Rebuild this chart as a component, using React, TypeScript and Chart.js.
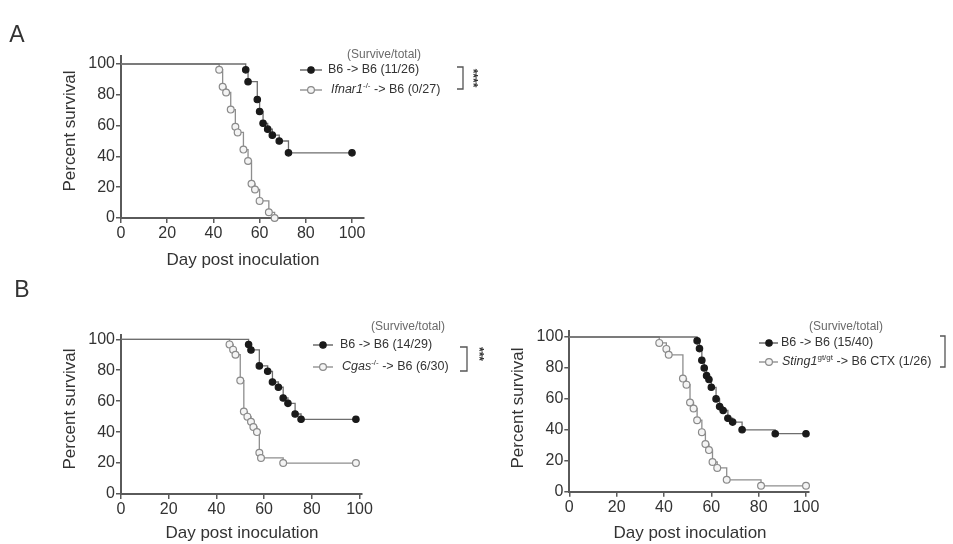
import React, { useEffect, useRef } from "react";
import { Chart, registerables } from "chart.js";

Chart.register(...registerables);

const FONT = "'Liberation Sans', Arial, Helvetica, sans-serif";
const W = 953;
const H = 544;

// ---------- Data (Kaplan-Meier steps: day, percent survival) ----------
// Panel A
const aCtrlDays = [0, 54, 55, 59, 60, 61.5, 63.5, 65.5, 68.5, 72.5, 100];
const aCtrlSurv = [100, 96.2, 88.5, 76.9, 69.2, 61.5, 57.7, 53.8, 50.0, 42.3, 42.3];
const aKoDays = [0, 42.5, 44, 45.5, 47.5, 49.5, 50.5, 53, 55, 56.5, 58, 60, 64, 66.5];
const aKoSurv = [100, 96.3, 85.2, 81.5, 70.4, 59.3, 55.6, 44.4, 37.0, 22.2, 18.5, 11.1, 3.7, 0];

// Panel B left
const bCtrlDays = [0, 53.5, 54.5, 58, 61.5, 63.5, 66, 68, 70, 73, 75.5, 98.5];
const bCtrlSurv = [100, 96.6, 93.1, 82.8, 79.3, 72.4, 69.0, 62.1, 58.6, 51.7, 48.3, 48.3];
const bKoDays = [0, 45.5, 47, 48, 50, 51.5, 53, 54.5, 55.5, 57, 58, 58.7, 68, 98.5];
const bKoSurv = [100, 96.7, 93.3, 90, 73.3, 53.3, 50, 46.7, 43.3, 40, 26.7, 23.3, 20, 20];

// Panel B right
const cCtrlDays = [0, 54, 55, 56, 57, 58, 59, 60, 62, 63.5, 65, 67, 69, 73, 87, 100];
const cCtrlSurv = [100, 97.5, 92.5, 85, 80, 75, 72.5, 67.5, 60, 55, 52.5, 47.5, 45, 40, 37.5, 37.5];
const cKoDays = [0, 38, 41, 42, 48, 49.5, 51, 52.5, 54, 56, 57.5, 59, 60.5, 62.5, 66.5, 81, 100];
const cKoSurv = [100, 96.2, 92.3, 88.5, 73.1, 69.2, 57.7, 53.8, 46.2, 38.5, 30.8, 26.9, 19.2, 15.4, 7.7, 3.8, 3.8];

const xTicks = [0, 20, 40, 60, 80, 100];
const yTicks = [0, 20, 40, 60, 80, 100];

const AXIS = "#5a5a5a";
const TXT = "#333333";

function makeDataset(days: number[], surv: number[], filled: boolean) {
  return {
    data: days.map((d, i) => ({ x: d, y: surv[i] })),
    stepped: "before",
    borderColor: filled ? "#6e6e6e" : "#8e8e8e",
    borderWidth: 1.3,
    pointRadius: (c: any) => (c.dataIndex === 0 ? 0 : filled ? 3.2 : 3.4),
    pointBackgroundColor: filled ? "#1a1a1a" : "#f4f4f4",
    pointBorderColor: filled ? "#1a1a1a" : "#8a8a8a",
    pointBorderWidth: 1.2,
    pointHoverRadius: 0,
    fill: false,
    clip: false,
  };
}

function text(ctx: CanvasRenderingContext2D, s: string, x: number, y: number, size: number, opts: any = {}) {
  ctx.save();
  ctx.font = `${opts.italic ? "italic " : ""}${opts.bold ? "bold " : ""}${size}px ${FONT}`;
  ctx.fillStyle = opts.color || TXT;
  ctx.textAlign = opts.align || "center";
  ctx.textBaseline = "middle";
  ctx.translate(x, y);
  if (opts.rot) ctx.rotate(opts.rot);
  ctx.fillText(s, 0, 0);
  ctx.restore();
}

function rich(ctx: CanvasRenderingContext2D, parts: any[], x: number, y: number) {
  ctx.save();
  ctx.textBaseline = "middle";
  ctx.textAlign = "left";
  ctx.fillStyle = TXT;
  let cx = x;
  for (const p of parts) {
    ctx.font = `${p.italic ? "italic " : ""}${p.size}px ${FONT}`;
    ctx.fillText(p.t, cx, y + (p.dy || 0));
    cx += ctx.measureText(p.t).width;
  }
  ctx.restore();
}

function legendMarker(ctx: CanvasRenderingContext2D, x1: number, x2: number, cx: number, y: number, filled: boolean) {
  ctx.save();
  ctx.strokeStyle = filled ? "#555" : "#888";
  ctx.lineWidth = 1.3;
  ctx.beginPath();
  ctx.moveTo(x1, y);
  ctx.lineTo(x2, y);
  ctx.stroke();
  ctx.beginPath();
  ctx.arc(cx, y, filled ? 3.2 : 3.4, 0, Math.PI * 2);
  ctx.fillStyle = filled ? "#1a1a1a" : "#f4f4f4";
  ctx.fill();
  ctx.strokeStyle = filled ? "#1a1a1a" : "#8a8a8a";
  ctx.lineWidth = 1.2;
  ctx.stroke();
  ctx.restore();
}

function bracket(ctx: CanvasRenderingContext2D, xl: number, xr: number, y1: number, y2: number) {
  ctx.save();
  ctx.strokeStyle = "#555";
  ctx.lineWidth = 1.3;
  ctx.beginPath();
  ctx.moveTo(xl, y1);
  ctx.lineTo(xr, y1);
  ctx.lineTo(xr, y2);
  ctx.lineTo(xl, y2);
  ctx.stroke();
  ctx.restore();
}

type PanelSpec = {
  left: number;
  right: number;
  top: number;
  bottom: number;
  xMax: number;
  yMax: number;
  datasets: any[];
  annotate: (ctx: CanvasRenderingContext2D) => void;
};

function scaleOpts(max: number, ticks: number[], isX: boolean) {
  return {
    type: "linear",
    min: 0,
    max,
    afterBuildTicks: (s: any) => {
      s.ticks = ticks.map((v) => ({ value: v }));
    },
    afterFit: (s: any) => {
      if (isX) s.height = 40;
      else s.width = 60;
    },
    border: { display: true, color: AXIS, width: 2 },
    grid: {
      display: true,
      drawOnChartArea: false,
      drawTicks: true,
      tickLength: 5,
      color: AXIS,
      lineWidth: 1.5,
    },
    ticks: {
      font: { family: FONT, size: 16 },
      color: TXT,
      padding: 1,
      maxRotation: 0,
      autoSkip: false,
    },
  };
}

function makeConfig(p: PanelSpec): any {
  return {
    type: "line",
    data: { datasets: p.datasets },
    options: {
      animation: false,
      responsive: false,
      devicePixelRatio: 1,
      events: [],
      layout: {
        padding: {
          left: p.left - 60,
          right: W - p.right,
          top: p.top,
          bottom: H - p.bottom - 40,
        },
      },
      plugins: { legend: { display: false }, title: { display: false }, tooltip: { enabled: false } },
      scales: {
        x: scaleOpts(p.xMax, xTicks, true),
        y: scaleOpts(p.yMax, yTicks, false),
      },
    },
    plugins: [
      {
        id: "annot",
        afterDraw: (chart: any) => p.annotate(chart.ctx),
      },
    ],
  };
}

const panelA: PanelSpec = {
  left: 121,
  right: 121 + 105 * 2.31,
  top: 218 - 105 * 1.54,
  bottom: 218,
  xMax: 105,
  yMax: 105,
  datasets: [makeDataset(aCtrlDays, aCtrlSurv, true), makeDataset(aKoDays, aKoSurv, false)],
  annotate: (ctx) => {
    text(ctx, "A", 17, 36, 23);
    text(ctx, "Percent survival", 70, 131, 17, { rot: -Math.PI / 2 });
    text(ctx, "Day post inoculation", 243, 260, 17);
    text(ctx, "(Survive/total)", 384, 55, 12, { color: "#6a6a6a" });
    legendMarker(ctx, 300, 322, 311, 70, true);
    text(ctx, "B6 -> B6 (11/26)", 328, 70, 12.5, { align: "left" });
    legendMarker(ctx, 300, 322, 311, 90, false);
    rich(
      ctx,
      [
        { t: "Ifnar1", size: 12.5, italic: true },
        { t: "-/-", size: 8, dy: -4 },
        { t: " -> B6 (0/27)", size: 12.5 },
      ],
      331,
      90
    );
    bracket(ctx, 457, 463, 67, 89);
    text(ctx, "****", 472, 78, 12, { bold: true, rot: Math.PI / 2 });
  },
};

const panelB: PanelSpec = {
  left: 121,
  right: 121 + 101 * 2.385,
  top: 494 - 103 * 1.547,
  bottom: 494,
  xMax: 101,
  yMax: 103,
  datasets: [makeDataset(bCtrlDays, bCtrlSurv, true), makeDataset(bKoDays, bKoSurv, false)],
  annotate: (ctx) => {
    text(ctx, "B", 22, 291, 23);
    text(ctx, "Percent survival", 70, 409, 17, { rot: -Math.PI / 2 });
    text(ctx, "Day post inoculation", 242, 533, 17);
    text(ctx, "(Survive/total)", 408, 327, 12, { color: "#6a6a6a" });
    legendMarker(ctx, 313, 333, 323, 345, true);
    text(ctx, "B6 -> B6 (14/29)", 340, 345, 12.5, { align: "left" });
    legendMarker(ctx, 313, 333, 323, 367, false);
    rich(
      ctx,
      [
        { t: "Cgas", size: 12.5, italic: true },
        { t: "-/-", size: 8, dy: -4 },
        { t: " -> B6 (6/30)", size: 12.5 },
      ],
      342,
      367
    );
    bracket(ctx, 460, 467, 347, 371);
    text(ctx, "***", 478, 354, 12, { bold: true, rot: Math.PI / 2 });
  },
};

const panelC: PanelSpec = {
  left: 569.3,
  right: 569.3 + 101 * 2.367,
  top: 491.7 - 104 * 1.547,
  bottom: 491.7,
  xMax: 101,
  yMax: 104,
  datasets: [makeDataset(cCtrlDays, cCtrlSurv, true), makeDataset(cKoDays, cKoSurv, false)],
  annotate: (ctx) => {
    text(ctx, "Percent survival", 518, 408, 17, { rot: -Math.PI / 2 });
    text(ctx, "Day post inoculation", 690, 533, 17);
    text(ctx, "(Survive/total)", 846, 327, 12, { color: "#6a6a6a" });
    legendMarker(ctx, 759, 778, 769, 343, true);
    text(ctx, "B6 -> B6 (15/40)", 781, 343, 12.5, { align: "left" });
    legendMarker(ctx, 759, 778, 769, 362, false);
    rich(
      ctx,
      [
        { t: "Sting1", size: 12.5, italic: true },
        { t: "gt/gt", size: 8, dy: -4 },
        { t: " -> B6 CTX (1/26)", size: 12.5 },
      ],
      782,
      362
    );
    bracket(ctx, 940, 945, 336, 367);
  },
};

function KMPanel({ spec }: { spec: PanelSpec }) {
  const ref = useRef<HTMLCanvasElement | null>(null);
  useEffect(() => {
    if (!ref.current) return;
    const chart = new Chart(ref.current, makeConfig(spec));
    return () => chart.destroy();
  }, [spec]);
  return (
    <canvas
      ref={ref}
      width={W}
      height={H}
      style={{ position: "absolute", left: 0, top: 0, width: W, height: H }}
    />
  );
}

export default function App() {
  return (
    <div
      style={{
        position: "fixed",
        left: 0,
        top: 0,
        width: W,
        height: H,
        background: "#ffffff",
        overflow: "hidden",
      }}
    >
      <KMPanel spec={panelA} />
      <KMPanel spec={panelB} />
      <KMPanel spec={panelC} />
    </div>
  );
}
